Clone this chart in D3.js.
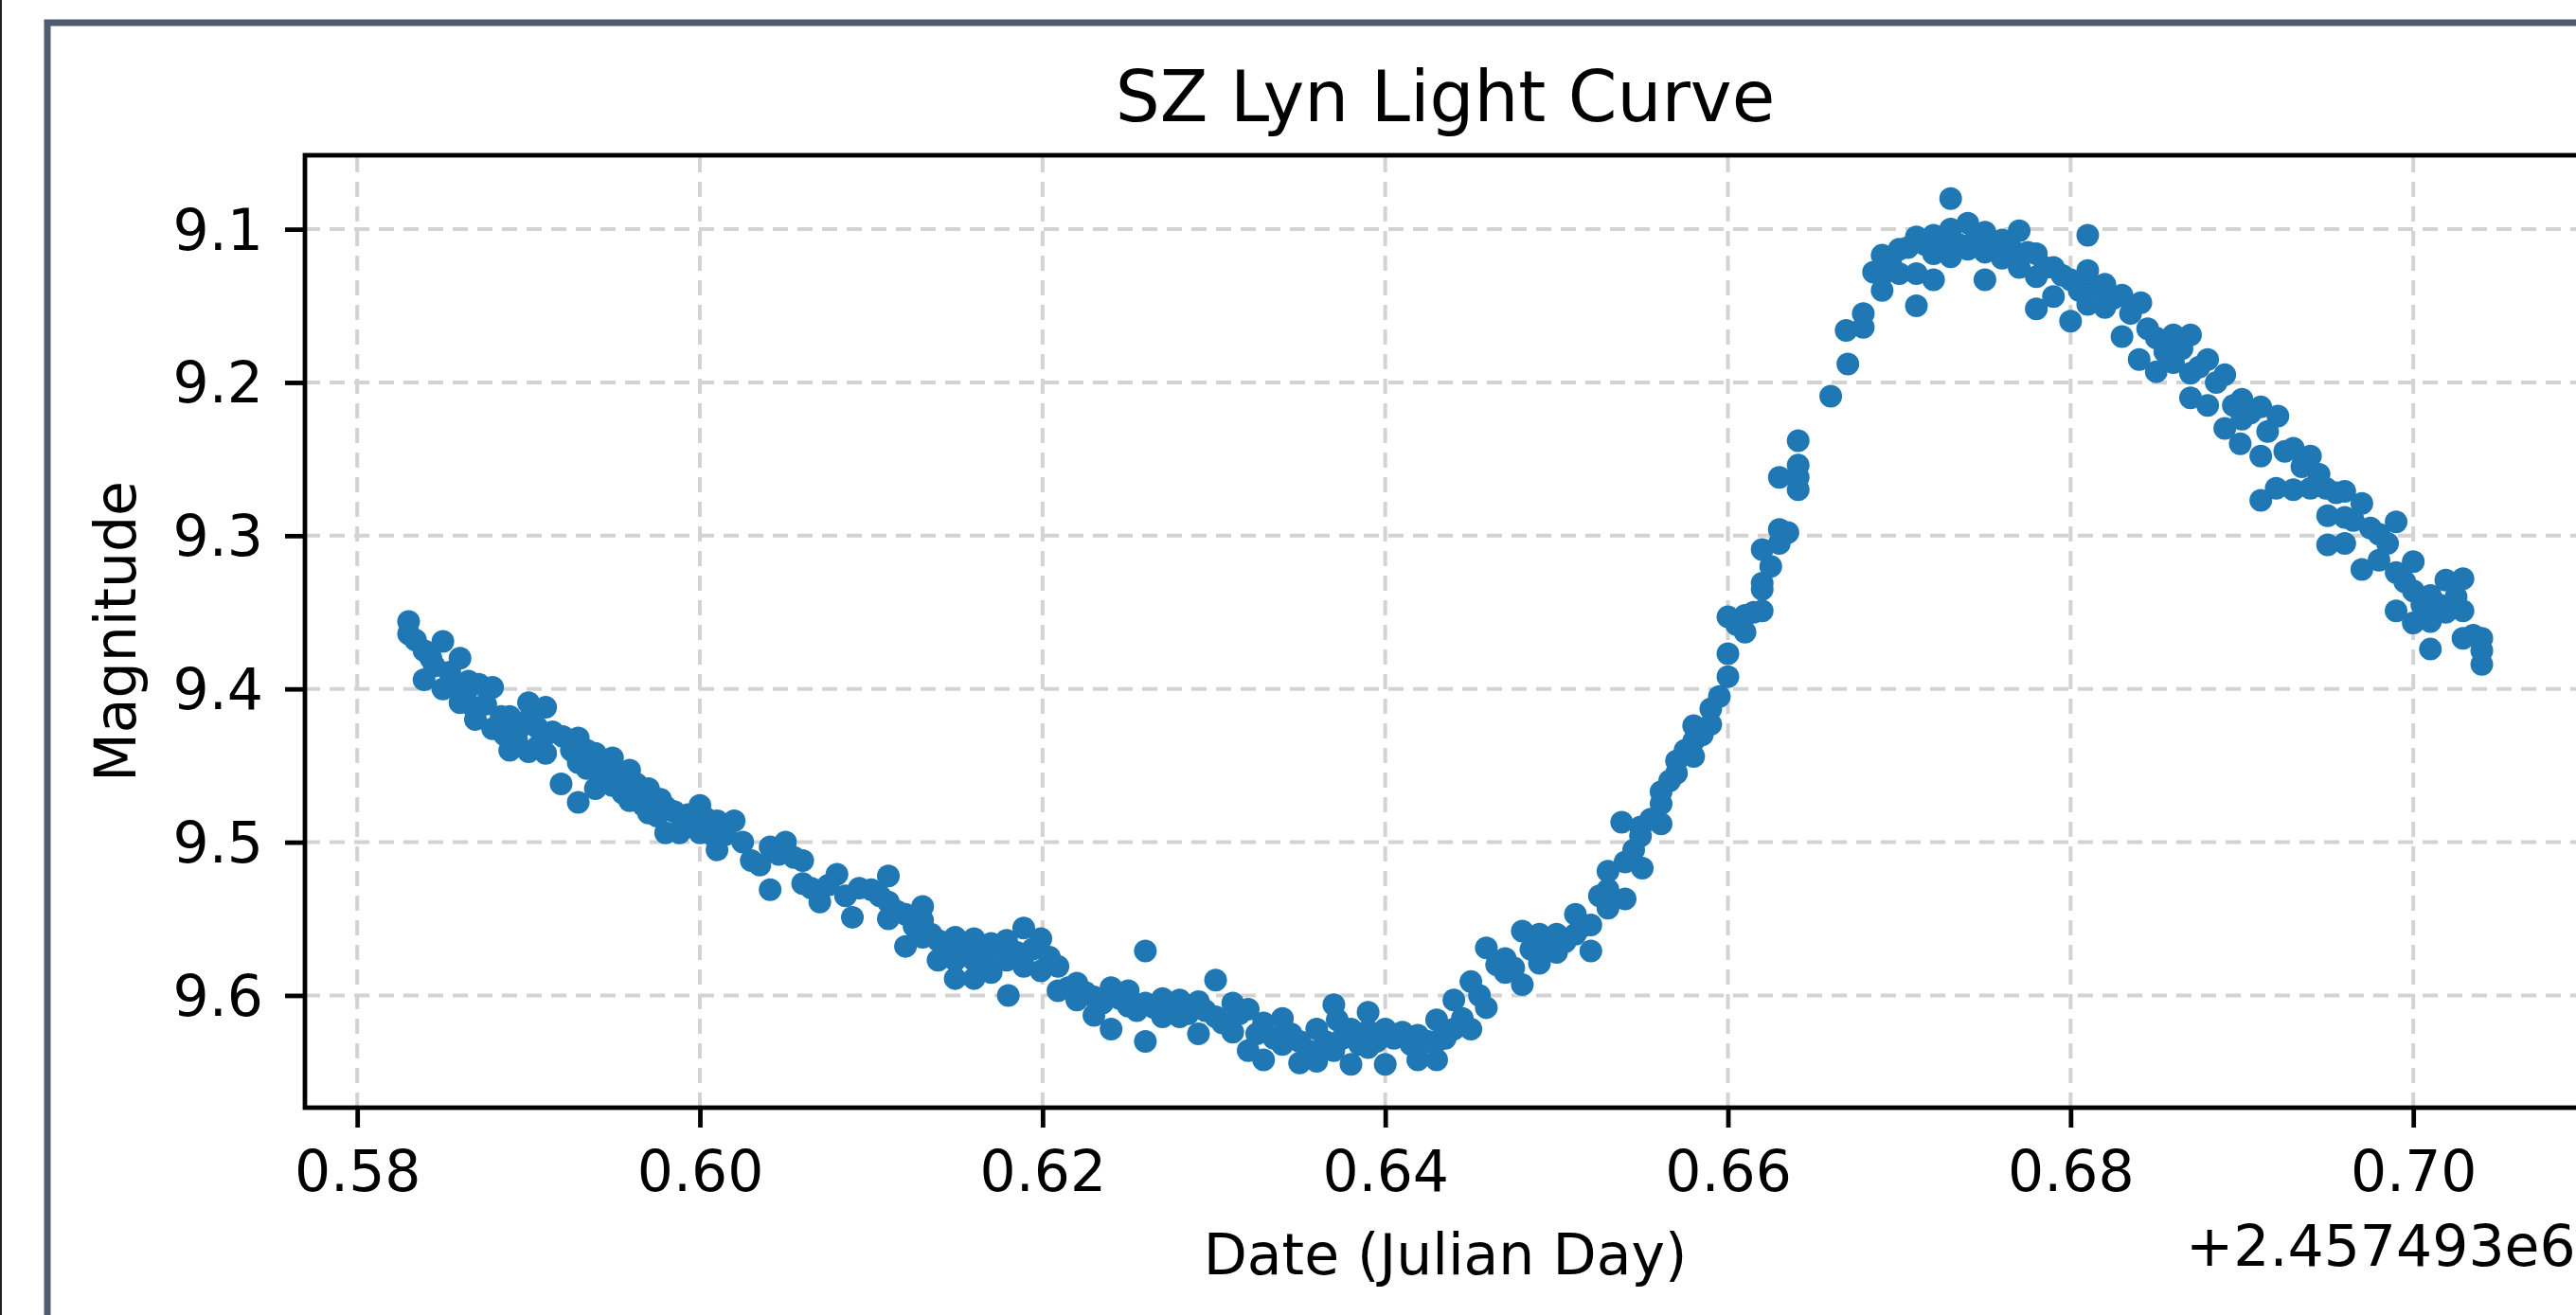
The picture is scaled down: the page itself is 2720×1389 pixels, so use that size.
<!DOCTYPE html>
<html>
<head>
<meta charset="utf-8">
<script src="https://cdn.jsdelivr.net/npm/d3@7"></script>
<style>
  html, body { margin: 0; padding: 0; background: #fff; overflow: hidden; }
  svg { display: block; }
  text { font-family: "DejaVu Sans", sans-serif; fill: #000; }
</style>
</head>
<body>
<div id="vis"></div>
<script>
// julian day offset shown under the x axis
var jdOffset = 2457493;

// fraction of day after jdOffset
var dayFraction = [
  0.5830, 0.5830, 0.5839, 0.5839, 0.5845, 0.5850, 0.5850, 0.5854, 0.5860, 0.5860,
  0.5865, 0.5869, 0.5871, 0.5875, 0.5879, 0.5879, 0.5889, 0.5889, 0.5895, 0.5900,
  0.5900, 0.5900, 0.5910, 0.5910, 0.5910, 0.5919, 0.5920, 0.5929, 0.5929, 0.5929,
  0.5939, 0.5939, 0.5944, 0.5949, 0.5949, 0.5955, 0.5959, 0.5959, 0.5965, 0.5970,
  0.5970, 0.5975, 0.5980, 0.5980, 0.5985, 0.5990, 0.5995, 0.6000, 0.6000, 0.6005,
  0.6010, 0.6010, 0.6015, 0.6020, 0.6030, 0.6041, 0.6041, 0.6050, 0.6060, 0.6060,
  0.6070, 0.6080, 0.6089, 0.6093, 0.6100, 0.6110, 0.6110, 0.6110, 0.6120, 0.6120,
  0.6130, 0.6130, 0.6130, 0.6139, 0.6139, 0.6149, 0.6149, 0.6149, 0.6160, 0.6160,
  0.6160, 0.6170, 0.6170, 0.6179, 0.6179, 0.6180, 0.6189, 0.6189, 0.6199, 0.6199,
  0.6209, 0.6209, 0.6220, 0.6220, 0.6230, 0.6230, 0.6240, 0.6240, 0.6250, 0.6250,
  0.6260, 0.6260, 0.6260, 0.6270, 0.6270, 0.6280, 0.6280, 0.6291, 0.6291, 0.6301,
  0.6301, 0.6311, 0.6311, 0.6320, 0.6320, 0.6329, 0.6329, 0.6340, 0.6340, 0.6350,
  0.6350, 0.6360, 0.6360, 0.6370, 0.6370, 0.6372, 0.6380, 0.6380, 0.6390, 0.6390,
  0.6390, 0.6400, 0.6400, 0.6410, 0.6419, 0.6419, 0.6430, 0.6430, 0.6430, 0.6440,
  0.6440, 0.6450, 0.6450, 0.6459, 0.6459, 0.6470, 0.6470, 0.6480, 0.6480, 0.6490,
  0.6490, 0.6500, 0.6500, 0.6511, 0.6511, 0.6520, 0.6520, 0.6530, 0.6530, 0.6530,
  0.6538, 0.6540, 0.6540, 0.6549, 0.6549, 0.6550, 0.6561, 0.6561, 0.6561, 0.6570,
  0.6570, 0.6580, 0.6580, 0.6580, 0.6590, 0.6590, 0.6600, 0.6600, 0.6600, 0.6610,
  0.6610, 0.6620, 0.6620, 0.6620, 0.6620, 0.6630, 0.6630, 0.6630, 0.6641, 0.6641,
  0.6641, 0.6641, 0.6660, 0.6669, 0.6670, 0.6679, 0.6679, 0.6690, 0.6690, 0.6690,
  0.6700, 0.6700, 0.6710, 0.6710, 0.6710, 0.6720, 0.6720, 0.6720, 0.6730, 0.6730,
  0.6730, 0.6740, 0.6740, 0.6750, 0.6750, 0.6750, 0.6760, 0.6760, 0.6770, 0.6770,
  0.6780, 0.6780, 0.6780, 0.6790, 0.6790, 0.6800, 0.6800, 0.6810, 0.6810, 0.6810,
  0.6820, 0.6820, 0.6830, 0.6830, 0.6841, 0.6840, 0.6850, 0.6850, 0.6860, 0.6860,
  0.6870, 0.6870, 0.6870, 0.6880, 0.6880, 0.6890, 0.6890, 0.6899, 0.6900, 0.6900,
  0.6911, 0.6911, 0.6911, 0.6920, 0.6921, 0.6930, 0.6930, 0.6940, 0.6940, 0.6949,
  0.6950, 0.6950, 0.6960, 0.6960, 0.6960, 0.6970, 0.6970, 0.6980, 0.6980, 0.6990,
  0.6990, 0.6990, 0.7000, 0.7000, 0.7000, 0.7010, 0.7010, 0.7010, 0.7019, 0.7019,
  0.7029, 0.7029, 0.7029, 0.7040, 0.7040, 0.7040
];

var magnitude = [
  9.356, 9.364, 9.375, 9.394, 9.385, 9.369, 9.400, 9.389, 9.380, 9.409,
  9.395, 9.420, 9.397, 9.410, 9.399, 9.426, 9.418, 9.440, 9.425, 9.409,
  9.420, 9.441, 9.412, 9.430, 9.442, 9.462, 9.431, 9.432, 9.448, 9.474,
  9.442, 9.465, 9.455, 9.445, 9.463, 9.468, 9.453, 9.473, 9.470, 9.465,
  9.481, 9.483, 9.477, 9.494, 9.480, 9.488, 9.490, 9.476, 9.494, 9.490,
  9.486, 9.505, 9.495, 9.486, 9.512, 9.503, 9.531, 9.500, 9.512, 9.527,
  9.539, 9.521, 9.549, 9.530, 9.531, 9.522, 9.539, 9.550, 9.547, 9.568,
  9.542, 9.551, 9.562, 9.564, 9.577, 9.562, 9.577, 9.589, 9.563, 9.577,
  9.589, 9.566, 9.585, 9.564, 9.577, 9.600, 9.556, 9.581, 9.563, 9.584,
  9.581, 9.597, 9.592, 9.603, 9.601, 9.613, 9.595, 9.622, 9.597, 9.607,
  9.571, 9.605, 9.630, 9.602, 9.614, 9.603, 9.614, 9.604, 9.625, 9.590,
  9.614, 9.605, 9.624, 9.609, 9.636, 9.618, 9.642, 9.615, 9.632, 9.630,
  9.644, 9.622, 9.643, 9.606, 9.636, 9.616, 9.622, 9.645, 9.611, 9.623,
  9.634, 9.622, 9.645, 9.624, 9.626, 9.642, 9.616, 9.630, 9.642, 9.603,
  9.622, 9.591, 9.622, 9.569, 9.608, 9.576, 9.585, 9.558, 9.593, 9.560,
  9.579, 9.560, 9.572, 9.547, 9.560, 9.554, 9.571, 9.519, 9.531, 9.543,
  9.487, 9.513, 9.537, 9.490, 9.496, 9.517, 9.467, 9.475, 9.488, 9.447,
  9.455, 9.424, 9.434, 9.444, 9.413, 9.423, 9.377, 9.392, 9.353, 9.352,
  9.363, 9.349, 9.331, 9.335, 9.309, 9.296, 9.305, 9.262, 9.238, 9.254,
  9.262, 9.270, 9.209, 9.166, 9.188, 9.155, 9.164, 9.117, 9.130, 9.140,
  9.113, 9.129, 9.105, 9.129, 9.150, 9.104, 9.116, 9.133, 9.080, 9.100,
  9.118, 9.096, 9.113, 9.102, 9.115, 9.133, 9.107, 9.119, 9.101, 9.125,
  9.116, 9.131, 9.152, 9.125, 9.144, 9.133, 9.160, 9.104, 9.127, 9.149,
  9.136, 9.151, 9.143, 9.170, 9.148, 9.185, 9.171, 9.193, 9.169, 9.187,
  9.169, 9.194, 9.210, 9.185, 9.215, 9.195, 9.230, 9.240, 9.211, 9.224,
  9.216, 9.248, 9.277, 9.269, 9.222, 9.243, 9.270, 9.248, 9.269, 9.269,
  9.287, 9.306, 9.271, 9.288, 9.305, 9.279, 9.322, 9.299, 9.316, 9.291,
  9.324, 9.349, 9.317, 9.336, 9.357, 9.339, 9.356, 9.374, 9.329, 9.350,
  9.328, 9.349, 9.367, 9.367, 9.375, 9.384
];

// points hidden inside the dense part of the band
var denseFraction = [
  0.5834, 0.5843, 0.5857, 0.5863, 0.5868, 0.5884, 0.5886, 0.5893, 0.5905, 0.5905,
  0.5914, 0.5925, 0.5934, 0.5934, 0.5943, 0.5953, 0.5963, 0.5967, 0.5977, 0.5988,
  0.5993, 0.6003, 0.6008, 0.6025, 0.6035, 0.6046, 0.6055, 0.6065, 0.6075, 0.6085,
  0.6105, 0.6115, 0.6125, 0.6135, 0.6144, 0.6155, 0.6165, 0.6175, 0.6185, 0.6194,
  0.6204, 0.6215, 0.6225, 0.6235, 0.6245, 0.6255, 0.6265, 0.6275, 0.6285, 0.6295,
  0.6305, 0.6315, 0.6325, 0.6335, 0.6345, 0.6355, 0.6365, 0.6375, 0.6385, 0.6395,
  0.6405, 0.6415, 0.6425, 0.6435, 0.6445, 0.6455, 0.6465, 0.6475, 0.6485, 0.6495,
  0.6505, 0.6515, 0.6525, 0.6545, 0.6555, 0.6566, 0.6575, 0.6585, 0.6595, 0.6605,
  0.6615, 0.6625, 0.6635, 0.6685, 0.6695, 0.6705, 0.6715, 0.6725, 0.6735, 0.6745,
  0.6755, 0.6765, 0.6775, 0.6785, 0.6795, 0.6805, 0.6815, 0.6825, 0.6835, 0.6845,
  0.6855, 0.6865, 0.6875, 0.6885, 0.6895, 0.6905, 0.6915, 0.6925, 0.6935, 0.6945,
  0.6955, 0.6965, 0.6975, 0.6985, 0.6995, 0.7005, 0.7015, 0.7025, 0.7035
];

var denseMagnitude = [
  9.368, 9.380, 9.398, 9.405, 9.412, 9.418, 9.430, 9.433, 9.425, 9.438,
  9.428, 9.440, 9.452, 9.440, 9.447, 9.458, 9.462, 9.476, 9.472, 9.494,
  9.482, 9.484, 9.496, 9.500, 9.515, 9.508, 9.510, 9.530, 9.528, 9.535,
  9.535, 9.545, 9.555, 9.560, 9.570, 9.570, 9.575, 9.572, 9.572, 9.570,
  9.575, 9.595, 9.598, 9.605, 9.602, 9.610, 9.608, 9.608, 9.612, 9.610,
  9.618, 9.612, 9.625, 9.628, 9.625, 9.636, 9.630, 9.628, 9.632, 9.630,
  9.628, 9.632, 9.630, 9.628, 9.615, 9.600, 9.580, 9.582, 9.570, 9.568,
  9.565, 9.555, 9.535, 9.505, 9.485, 9.460, 9.440, 9.430, 9.405, 9.358,
  9.350, 9.320, 9.298, 9.128, 9.120, 9.112, 9.110, 9.108, 9.110, 9.105,
  9.110, 9.112, 9.115, 9.125, 9.130, 9.140, 9.138, 9.145, 9.155, 9.165,
  9.180, 9.178, 9.190, 9.200, 9.215, 9.220, 9.232, 9.245, 9.255, 9.260,
  9.272, 9.290, 9.295, 9.305, 9.330, 9.345, 9.345, 9.340, 9.365
];

var xTicks = [0.58, 0.60, 0.62, 0.64, 0.66, 0.68, 0.70];
var yTicks = [9.1, 9.2, 9.3, 9.4, 9.5, 9.6];

var chartTitle = 'SZ Lyn Light Curve';
var xLabel = 'Date (Julian Day)';
var yLabel = 'Magnitude';

function lightCurve() {
  var width = 2720;
  var height = 1389;
  var margin = { left: 322, top: 164 };
  var plotW = 2408;
  var plotH = 1006;

  var lineW = 4.8;
  var tickLen = 21;

  function toPoints(times, mags) {
    return times.map(function (d, i) {
      return { t: d, mag: mags[i] };
    });
  }

  var points = toPoints(dayFraction, magnitude)
    .concat(toPoints(denseFraction, denseMagnitude));

  // matplotlib style 5% padding around the data
  function padded(ext) {
    var pad = (ext[1] - ext[0]) * 0.05;
    return [ext[0] - pad, ext[1] + pad];
  }

  var x = d3.scaleLinear()
    .domain(padded(d3.extent(points, function (d) { return d.t; })))
    .range([0, plotW]);

  // magnitudes run downward: brighter at the top
  var y = d3.scaleLinear()
    .domain(padded(d3.extent(points, function (d) { return d.mag; })))
    .range([0, plotH]);

  var svg = d3.select('#vis').append('svg')
    .attr('width', width)
    .attr('height', height);

  svg.append('rect')
    .attr('width', width).attr('height', height)
    .attr('fill', '#fff');

  // screenshot frame
  svg.append('rect')
    .attr('x', 0).attr('y', 0).attr('width', 2).attr('height', height)
    .attr('fill', '#222');
  svg.append('rect')
    .attr('x', 50).attr('y', 24)
    .attr('width', width).attr('height', height)
    .attr('fill', 'none')
    .attr('stroke', '#4f5b6f')
    .attr('stroke-width', 7);

  var g = svg.append('g')
    .attr('transform', 'translate(' + margin.left + ',' + margin.top + ')');

  // grid
  var grid = g.append('g').attr('class', 'grid')
    .attr('stroke', '#d3d3d3')
    .attr('stroke-width', 4)
    .attr('stroke-dasharray', '16,10');

  grid.selectAll('.vgrid')
    .data(xTicks)
    .enter().append('line')
    .attr('x1', function (d) { return x(d); })
    .attr('x2', function (d) { return x(d); })
    .attr('y1', plotH)
    .attr('y2', 0);

  grid.selectAll('.hgrid')
    .data(yTicks)
    .enter().append('line')
    .attr('x1', 0)
    .attr('x2', plotW)
    .attr('y1', function (d) { return y(d); })
    .attr('y2', function (d) { return y(d); });

  g.append('g')
    .selectAll('circle')
    .data(points)
    .enter().append('circle')
    .attr('cx', function (d) { return x(d.t); })
    .attr('cy', function (d) { return y(d.mag); })
    .attr('r', 12)
    .attr('fill', '#1f77b4');

  var xAxis = g.append('g')
    .attr('transform', 'translate(0,' + plotH + ')')
    .call(d3.axisBottom(x)
      .tickValues(xTicks)
      .tickFormat(d3.format('.2f'))
      .tickSize(tickLen)
      .tickSizeOuter(0)
      .tickPadding(24));

  var yAxis = g.append('g')
    .call(d3.axisLeft(y)
      .tickValues(yTicks)
      .tickFormat(d3.format('.1f'))
      .tickSize(tickLen)
      .tickSizeOuter(0)
      .tickPadding(23));

  [xAxis, yAxis].forEach(function (ax) {
    ax.select('.domain').remove();
    ax.selectAll('.tick line')
      .attr('stroke', '#000')
      .attr('stroke-width', lineW);
    ax.selectAll('.tick text')
      .attr('font-size', 60)
      .attr('font-family', 'DejaVu Sans')
      .attr('fill', '#000');
  });
  yAxis.selectAll('.tick text').attr('dy', '0.35em');

  // spines
  g.append('rect')
    .attr('width', plotW)
    .attr('height', plotH)
    .attr('fill', 'none')
    .attr('stroke', '#000')
    .attr('stroke-width', lineW);

  svg.append('text')
    .attr('x', margin.left + plotW / 2)
    .attr('y', 128)
    .attr('text-anchor', 'middle')
    .attr('font-size', 74)
    .text(chartTitle);

  svg.append('text')
    .attr('x', margin.left + plotW / 2)
    .attr('y', 1346)
    .attr('text-anchor', 'middle')
    .attr('font-size', 60)
    .text(xLabel);

  svg.append('text')
    .attr('transform', 'translate(143,' + (margin.top + plotH / 2) + ') rotate(-90)')
    .attr('text-anchor', 'middle')
    .attr('font-size', 60)
    .text(yLabel);

  // offset text, like matplotlib's "+2.457493e6"
  svg.append('text')
    .attr('x', 2308)
    .attr('y', 1337)
    .attr('font-size', 60)
    .text('+' + d3.format('.6e')(jdOffset).replace('e+', 'e'));
}

lightCurve();
</script>
</body>
</html>
